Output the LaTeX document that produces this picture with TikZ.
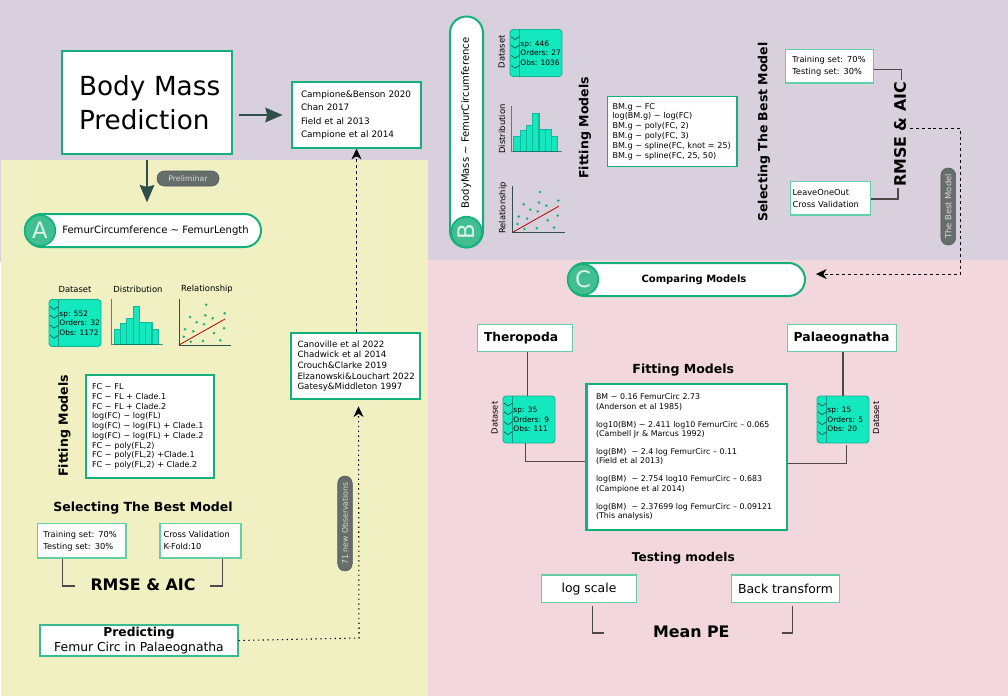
\documentclass[tikz,border=0pt]{standalone}
\usepackage{xcolor}
\usepackage{fontspec}
\setmainfont{DejaVu Sans}
\usetikzlibrary{arrows.meta, positioning}
\definecolor{bmPurple}{HTML}{D8D0DC}
\definecolor{bmYellow}{HTML}{F1F0C3}
\definecolor{bmPink}{HTML}{F2D8DC}
\definecolor{bmGreen}{HTML}{13B07C}
\definecolor{bmLight}{HTML}{62CFA6}
\definecolor{bmBadge}{HTML}{41BF90}
\definecolor{bmTeal}{HTML}{13E8BF}
\definecolor{bmSpine}{HTML}{0F9C84}
\definecolor{bmDark}{HTML}{2F4F4A}
\definecolor{bmTag}{HTML}{666E6C}
\definecolor{bmLine}{HTML}{4F474C}
\newcommand{\tld}{\textasciitilde}
\tikzset{
  pxbox/.style n args={3}{
    draw=bmGreen, fill=white, inner xsep=0pt, inner ysep=0pt, align=left,
    text width={#1*0.75pt}, minimum height={#2*0.75pt},
    execute at begin node={\leftskip=\dimexpr #3pt*3/4\relax}
  },
  midbox/.style n args={2}{
    draw=bmGreen, fill=white, inner sep=0pt, align=center,
    minimum width={#1*0.75pt}, minimum height={#2*0.75pt}
  },
  mainbox/.style={line width=1.5pt},
  thinbox/.style={line width=0.9pt, draw=bmLight},
  refsfont/.style={font=\fontsize{6.65}{9.9}\selectfont},
  addfont/.style={font=\fontsize{6.5}{8}\selectfont},
  modelfont/.style={font=\fontsize{6.05}{7.33}\selectfont},
  setfont/.style={font=\fontsize{6.2}{9}\selectfont},
  heading/.style={font=\fontsize{9.4}{11}\selectfont\bfseries, inner sep=0pt},
  metric/.style={font=\fontsize{11.9}{14}\selectfont\bfseries, inner sep=0pt},
  chartlabel/.style={font=\fontsize{6.3}{8}\selectfont, inner sep=0pt},
  pill/.style n args={2}{
    draw=bmGreen, fill=white, line width=1.5pt, rounded corners=12.3pt,
    minimum width={#1*0.75pt}, minimum height={#2*0.75pt}, inner sep=0pt
  },
  pilltext/.style={font=\fontsize{7.55}{9}\selectfont, inner sep=0pt},
  badge/.style={
    circle, draw=bmGreen, fill=bmBadge, line width=1.2pt, minimum size=23pt, inner sep=0pt,
    text=white!85!bmGreen, font=\fontsize{17}{17}\selectfont
  },
  tagpill/.style n args={2}{
    draw=bmTag!80!black, fill=bmTag, text=white!85!black, rounded corners=5.4pt,
    minimum width={#1*0.75pt}, minimum height={#2*0.75pt}, inner sep=0pt,
    font=\fontsize{5.8}{7}\selectfont
  },
  datacard/.style={
    draw=bmSpine!70!bmTeal, fill=bmTeal, rounded corners=2.5pt, line width=0.7pt,
    minimum width=39pt, minimum height=35.25pt, inner sep=0pt
  },
  cardtext/.style={font=\fontsize{5.6}{7.2}\selectfont, inner sep=0pt, align=left, anchor=west},
  mainarrow/.style={-{Stealth[length=13pt,width=11pt,inset=1.5pt]}, line width=1.2pt, bmDark},
  dashflow/.style={-{Stealth[length=8pt,width=7.5pt,inset=2.5pt]}, line width=0.75pt, dash pattern=on 2.2pt off 2.2pt},
  dotflow/.style={-{Stealth[length=8pt,width=7.5pt,inset=2.5pt]}, line width=0.8pt, dash pattern=on 1pt off 2.6pt},
  elbow/.style={line width=0.8pt, bmLine},
  spine/.pic={
    \draw[bmSpine, line width=0.5pt] (10,-23.5) -- (10,23.5);
    \foreach \cy in {-15,-6.3,3.7,13.7}
      \draw[bmSpine!60!black, line width=0.5pt] (1.5,\cy-1.5) -- (5.5,\cy+1.5) -- (10,\cy-1.5);
  },
  histchart/.pic={
    \foreach \i/\h in {0/15,1/21,2/26,3/38,4/22,5/22,6/15}
      \draw[draw=bmSpine!60!bmTeal, fill=bmTeal, line width=0.8pt] (2.5+6.3*\i,0) rectangle ++(6.3,-\h);
    \draw[black!35!bmSpine, line width=0.9pt, draw opacity=0.7] (0,-46) -- (0,0) -- (51,0);
  },
  scatterchart/.pic={
    \draw[bmDark, line width=0.6pt] (0,-46) -- (0,0) -- (52,0);
    \draw[red!70!black, line width=0.6pt] (0,0) -- (46,-26);
    \foreach \dx/\dy in {27.3/40.3,45.7/31.7,11/28,26.3/29.7,33.7/26.7,17.7/22.7,25/20.7,6/15.7,14.3/13.7,45/16.7,35/12,4.7/8.3,11.7/3.3,24/4,41.3/4.7}
      \fill[bmGreen] (\dx,-\dy) circle (1.05pt);
  }
}
\begin{document}
\begin{tikzpicture}[x=0.75pt, y=-0.75pt]
  \useasboundingbox (0,0) rectangle (1008,696);
  % panels
  \fill[bmPurple] (0,0) rectangle (1008,262);
  \fill[bmYellow] (1,160) rectangle (427.5,696);
  \fill[bmPink] (427.5,260) rectangle (1008,696);

  % title and references
  \node[pxbox={170}{103}{17}, mainbox, font=\fontsize{19.7}{25.5}\selectfont] (title) at (147,102.5) {Body Mass\\Prediction};
  \node[pxbox={129}{66}{9}, refsfont, line width=1.1pt] (refs) at (356.5,115) {Campione\&Benson 2020\\Chan 2017\\Field et al 2013\\Campione et al 2014};
  \node[pxbox={129}{66}{6.5}, addfont, line width=1.1pt] (newrefs) at (355.5,366) {Canoville et al 2022\\Chadwick et al 2014\\Crouch\&Clarke 2019\\Elzanowski\&Louchart 2022\\Gatesy\&Middleton 1997\par\vspace{3.5pt}};
  \draw[mainarrow, shorten <=4.5pt, shorten >=6.5pt] (title.east |- refs.west) -- (refs.west);

  % panel A
  \node[pill={236}{33}] (pillA) at (143,230.5) {};
  \node[badge] (badgeA) at (40,230.5) {A};
  \node[pilltext, anchor=west] (headA) at (62,230.5) {FemurCircumference \tld\ FemurLength};
  \draw[mainarrow, shorten <=4pt, shorten >=8pt] (title.south) -- (pillA.north -| title.south);
  \node[tagpill={62}{15}] (prelim) at (188,178.5) {Preliminar};

  \node[datacard] (cardA) at (75,323) {};
  \pic at (cardA.west) {spine};
  \node[cardtext] (cardAtext) at ([xshift=8pt]cardA.west) {sp: 552\\Orders: 32\\Obs: 1172};
  \node[chartlabel, above=4.5pt of cardA] (dataA) {Dataset};
  \pic at (111.7,344.7) {histchart};
  \pic at (179,345) {scatterchart};
  \node[chartlabel] (distA) at (138,289) {Distribution};
  \node[chartlabel] (relA) at (207,289) {Relationship};

  \node[heading, rotate=90] (fitA) at (64.5,426) {Fitting Models};
  \node[pxbox={128}{103}{6}, modelfont, line width=1.1pt] (modelsA) at (150,426.5) {FC \tld\ FL\\FC \tld\ FL + Clade.1\\FC \tld\ FL + Clade.2\\log(FC) \tld\ log(FL)\\log(FC) \tld\ log(FL) + Clade.1\\log(FC) \tld\ log(FL) + Clade.2\\FC \tld\ poly(FL,2)\\FC \tld\ poly(FL,2) +Clade.1\\FC \tld\ poly(FL,2) + Clade.2};

  \node[heading] (selA) at (143,508) {Selecting The Best Model};
  \node[pxbox={88.5}{34.5}{6}, setfont, thinbox] (trainA) at (81.75,540.75) {Training set: 70\%\\Testing set: 30\%};
  \node[pxbox={81}{34.5}{3.5}, setfont, thinbox] (crossA) at (200.5,540.75) {Cross Validation\\K-Fold:10};
  \node[metric] (rmseA) at (143,584.5) {RMSE \& AIC};
  \coordinate (rmseAl) at (75,586);
  \coordinate (rmseAr) at (210,586);
  \draw[elbow] (trainA.south west) ++(25.8,0) |- (rmseAl);
  \draw[elbow] (crossA.south east) ++(-19.3,0) |- (rmseAr);

  \node[midbox={198}{31}, line width=1pt, draw=bmGreen!85!white, font=\fontsize{9.25}{11.25}\selectfont] (predict) at (139,640.5) {{\bfseries\fontsize{9.2}{11.25}\selectfont Predicting}\\Femur Circ in Palaeognatha};
  \coordinate (predcorner) at (359,638);
  \draw[dotflow] (predict.east) -- (predcorner) -- ([xshift=2.25pt,yshift=-5pt]newrefs.south);
  \draw[dashflow] (newrefs.north -| refs.south) -- (refs.south);
  \node[tagpill={95}{14.5}, rotate=90] (newobs) at (345,523.5) {71 new Observations};

  % panel B
  \node[pill={33}{231}] (pillB) at (466.5,132) {};
  \node[badge, rotate=90] (badgeB) at (466.5,232) {B};
  \node[pilltext, rotate=90] (headB) at (466,123) {BodyMass \tld\ FemurCircumference};

  \node[datacard] (cardB) at (536,53) {};
  \pic at (cardB.west) {spine};
  \node[cardtext] (cardBtext) at ([xshift=8pt]cardB.west) {sp: 446\\Orders: 27\\Obs: 1036};
  \node[chartlabel, rotate=90] (dataB) at (501.5,51.7) {Dataset};
  \node[chartlabel, rotate=90] (distB) at (502,129) {Distribution};
  \node[chartlabel, rotate=90] (relB) at (503,208) {Relationship};
  \pic at (511.3,151.5) {histchart};
  \pic at (512.7,232.3) {scatterchart};

  \node[heading, rotate=90] (fitB) at (585,128) {Fitting Models};
  \node[pxbox={129.5}{70}{5}, modelfont, line width=1.1pt] (modelsB) at (672.25,131.5) {BM.g \tld\ FC\\log(BM.g) \tld\ log(FC)\\BM.g \tld\ poly(FC, 2)\\BM.g \tld\ poly(FC, 3)\\BM.g \tld\ spline(FC, knot = 25)\\BM.g \tld\ spline(FC, 25, 50)};

  \node[heading, rotate=90] (selB) at (764,132) {Selecting The Best Model};
  \node[pxbox={88}{33.7}{7}, setfont, thinbox] (trainB) at (829.3,66.2) {Training set: 70\%\\Testing set: 30\%};
  \node[pxbox={80.4}{33.7}{2.4}, setfont, thinbox] (crossB) at (830.5,198.2) {LeaveOneOut\\Cross Validation};
  \node[metric, rotate=90] (rmseB) at (900,134.5) {RMSE \& AIC};
  \coordinate (rmseBt) at (901.3,80);
  \coordinate (rmseBb) at (898,188);
  \draw[elbow] (trainB.east) ++(0,3) -| (rmseBt);
  \draw[elbow] (crossB.east) ++(0,0.8) -| (rmseBb);
  \node[tagpill={77}{14.7}, rotate=90, font=\fontsize{6.3}{7}\selectfont] (bestmodel) at (948.3,206.5) {The Best Model};

  % panel C
  \node[pill={237}{33}] (pillC) at (686.5,279.5) {};
  \node[badge] (badgeC) at (583,279.5) {C};
  \node[pilltext, font=\fontsize{7.5}{9}\selectfont\bfseries] (headC) at (694,280) {Comparing Models};
  \draw[dashflow] (rmseB.center) ++(10,-6.5) -- ++(50,0) |- ([xshift=7.5pt,yshift=4.1pt]pillC.east);

  \node[pxbox={95}{27.4}{6.3}, thinbox, font=\fontsize{9.2}{11}\selectfont\bfseries] (thero) at (525.2,338) {Theropoda};
  \node[pxbox={109}{27.4}{6}, thinbox, font=\fontsize{9.3}{11}\selectfont\bfseries] (palaeo) at (842.2,338) {Palaeognatha};
  \node[heading] (fitC) at (683.3,370) {Fitting Models};
  \node[pxbox={200.3}{146}{9.3}, line width=1.9pt, font=\fontsize{5.9}{6.83}\selectfont] (modelsC) at (686.85,457) {BM \tld\ 0.16 FemurCirc 2.73\\(Anderson et al 1985)\\[6.83pt]log10(BM) \tld\ 2.411 log10 FemurCirc – 0.065\\(Cambell Jr \& Marcus 1992)\\[6.83pt]log(BM) \ \tld\ 2.4 log FemurCirc – 0.11\\(Field et al 2013)\\[6.83pt]log(BM) \ \tld\ 2.754 log10 FemurCirc – 0.683\\(Campione et al 2014)\\[6.83pt]log(BM) \ \tld\ 2.37699 log FemurCirc – 0.09121\\(This analysis)};

  \node[datacard] (cardL) at (529,419.5) {};
  \pic at (cardL.west) {spine};
  \node[cardtext] (cardLtext) at ([xshift=8pt]cardL.west) {sp: 35\\Orders: 9\\Obs: 111};
  \node[chartlabel, rotate=90] (dataL) at (494.5,418) {Dataset};
  \node[datacard] (cardR) at (843,419.5) {};
  \pic at (cardR.west) {spine};
  \node[cardtext] (cardRtext) at ([xshift=8pt]cardR.west) {sp: 15\\Orders: 5\\Obs: 20};
  \node[chartlabel, rotate=90] (dataR) at (876,418) {Dataset};
  \coordinate (cardLtop) at (527.2,396);
  \draw[elbow] (cardLtop |- thero.south) -- (cardLtop);
  \draw[elbow] (palaeo.south -| cardR.north) -- (cardR.north);
  \draw[elbow] (cardL.south) ++(-3.7,0) |- ([yshift=-3.5pt]modelsC.west);
  \draw[elbow] (cardR.south) ++(3.7,2) |- ([yshift=-4.7pt]modelsC.east);

  \node[heading, font=\fontsize{9.1}{11}\selectfont\bfseries] (testC) at (683.3,557.7) {Testing models};
  \node[midbox={95.4}{27.3}, thinbox, font=\fontsize{9.3}{11}\selectfont] (logbox) at (589,588.65) {log scale};
  \node[midbox={108.4}{27.3}, thinbox, font=\fontsize{9.3}{11}\selectfont] (backbox) at (785.5,588.65) {Back transform};
  \node[metric] (meanpe) at (691.3,631.7) {Mean PE};
  \coordinate (meanl) at (604,633);
  \coordinate (meanr) at (781.7,633);
  \draw[elbow] (logbox.south west) ++(51.4,3) |- (meanl);
  \draw[elbow] (backbox.south west) ++(61.4,3) |- (meanr);
\end{tikzpicture}
\end{document}
